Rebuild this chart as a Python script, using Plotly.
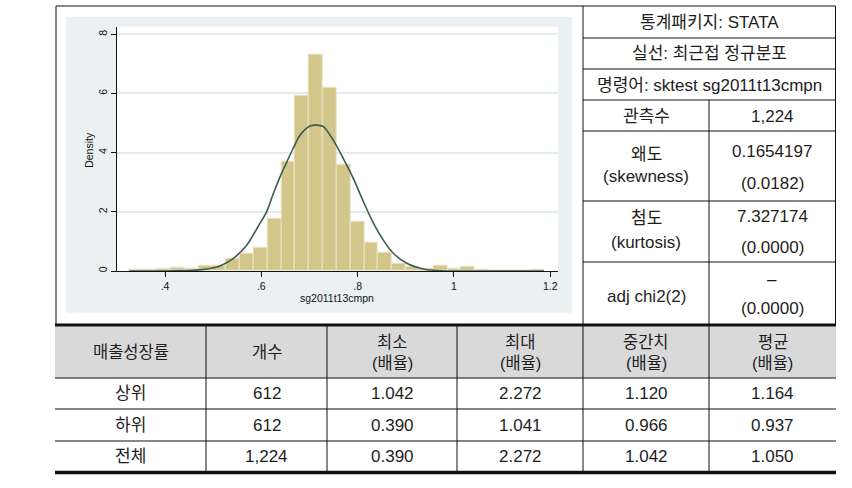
import plotly.graph_objects as go

W, H = 852, 488

# ---------------- histogram data ----------------
bin_start = 0.3255
bin_width = 0.02872
bin_density = [0.03, 0.03, 0.09, 0.12, 0.08, 0.19, 0.17, 0.43, 0.60, 0.78,
               1.76, 3.68, 5.92, 7.32, 6.18, 3.58, 1.65, 0.94, 0.63, 0.24,
               0.16, 0.09, 0.17, 0.07, 0.14, 0.06, 0.0, 0.0, 0.0, 0.05]

# normal overlay, points
curve_x = [0.326, 0.38, 0.42, 0.46, 0.487, 0.514, 0.542, 0.570, 0.597, 0.611,
           0.625, 0.639, 0.653, 0.666, 0.680, 0.701, 0.715, 0.729, 0.749, 0.770,
           0.791, 0.812, 0.833, 0.853, 0.874, 0.902, 0.936, 0.971, 1.02, 1.10, 1.187]
curve_y = [0.0, 0.0, 0.003, 0.02, 0.07, 0.17, 0.43, 0.88, 1.61, 2.0,
           2.62, 3.19, 3.69, 4.14, 4.58, 4.9, 4.93, 4.88, 4.43, 3.81,
           3.13, 2.34, 1.61, 1.05, 0.60, 0.26, 0.07, 0.01, 0.0, 0.0, 0.0]

x_tickvals = [0.4, 0.6, 0.8, 1.0, 1.2]
x_ticktext = [".4", ".6", ".8", "1", "1.2"]
y_tickvals = [0, 2, 4, 6, 8]
y_ticktext = ["0", "2", "4", "6", "8"]
x_title = "sg2011t13cmpn"
y_title = "Density"

# ---------------- right-hand table ----------------
info_rows = ["통계패키지: STATA", "실선: 최근접 정규분포", "명령어: sktest sg2011t13cmpn"]
stat_names = ["관측수", "왜도", "첨도", "adj chi2(2)"]
stat_names_en = ["", "(skewness)", "(kurtosis)", ""]
stat_values = ["1,224", "0.1654197", "7.327174", "–"]
stat_pvalues = ["", "(0.0182)", "(0.0000)", "(0.0000)"]

# ---------------- bottom table ----------------
bt_head1 = ["매출성장률", "개수", "최소", "최대", "중간치", "평균"]
bt_head2 = ["", "", "(배율)", "(배율)", "(배율)", "(배율)"]
groups = ["상위", "하위", "전체"]
counts = ["612", "612", "1,224"]
mins = ["1.042", "0.390", "0.390"]
maxs = ["2.272", "1.041", "2.272"]
medians = ["1.120", "0.966", "1.042"]
means = ["1.164", "0.937", "1.050"]


def X(px):
    return px / W


def Y(py):
    return 1 - py / H


CHART_FONT = "Liberation Sans, Arial, sans-serif"
TABLE_FONT = "Liberation Sans, Arial, Noto Sans CJK KR, sans-serif"
NARROW_FONT = "Liberation Sans Narrow, Arial Narrow, Liberation Sans, Noto Sans CJK KR, sans-serif"
INK = "#1e1e1e"

fig = go.Figure()

centers = [bin_start + (i + 0.5) * bin_width for i in range(len(bin_density))]
fig.add_trace(go.Bar(
    x=centers, y=bin_density, width=bin_width,
    marker=dict(color="#d2c68a", line=dict(color="#ebe5c4", width=1)),
    showlegend=False, hoverinfo="skip"))
fig.add_trace(go.Scatter(
    x=curve_x, y=curve_y, mode="lines",
    line=dict(color="#3a5c52", width=1.6, shape="spline", smoothing=0.8),
    showlegend=False, hoverinfo="skip"))

# plot geometry (pixels)
PL, PR, PT, PB = 116.7, 558.0, 26.7, 271.0

fig.update_layout(
    width=W, height=H, margin=dict(l=0, r=0, t=0, b=0),
    paper_bgcolor="white", plot_bgcolor="white",
    bargap=0, showlegend=False,
    font=dict(family=CHART_FONT, size=10, color="#111"),
    xaxis=dict(domain=[X(PL), X(PR)], range=[0.2997, 1.216],
               tickvals=x_tickvals, ticktext=x_ticktext,
               showline=True, linecolor="#111", linewidth=1,
               ticks="outside", ticklen=5, tickwidth=1, tickcolor="#111",
               showgrid=False, zeroline=False, automargin=False,
               tickfont=dict(size=10.5, family=CHART_FONT, color="#111")),
    yaxis=dict(domain=[Y(PB), Y(PT)], range=[0, 8.256],
               tickvals=y_tickvals, ticktext=y_ticktext, tickangle=-90,
               showline=True, linecolor="#111", linewidth=1,
               ticks="outside", ticklen=5, tickwidth=1, tickcolor="#111",
               showgrid=True, gridcolor="#e4ebee", gridwidth=1.5,
               zeroline=False, automargin=False,
               tickfont=dict(size=10.5, family=CHART_FONT, color="#111")),
)

shapes = []
# graph region panel and white plot region
shapes.append(dict(type="rect", xref="paper", yref="paper", layer="below",
                   x0=X(66), x1=X(572), y0=Y(312.7), y1=Y(17),
                   fillcolor="#eaf1f3", line=dict(width=0)))
shapes.append(dict(type="rect", xref="paper", yref="paper", layer="below",
                   x0=X(PL), x1=X(PR), y0=Y(PB), y1=Y(PT),
                   fillcolor="white", line=dict(width=0)))

# bottom header fill
shapes.append(dict(type="rect", xref="paper", yref="paper", layer="below",
                   x0=X(55), x1=X(836), y0=Y(378), y1=Y(326.5),
                   fillcolor="#d9d9d9", line=dict(width=0)))


def hline(py, x0, x1, w=1.0):
    shapes.append(dict(type="line", xref="paper", yref="paper",
                       x0=X(x0), x1=X(x1), y0=Y(py), y1=Y(py),
                       line=dict(color="#111", width=w)))


def vline(px, y0, y1, w=1.0):
    shapes.append(dict(type="line", xref="paper", yref="paper",
                       x0=X(px), x1=X(px), y0=Y(y0), y1=Y(y1),
                       line=dict(color="#111", width=w)))


# outer box of upper area
hline(6, 56, 835.5)
vline(56, 6, 325)
vline(835.5, 6, 325)
# right table
vline(583, 6, 472.5)
vline(709, 100, 472.5)
for py in [38, 69, 100, 131, 201, 262]:
    hline(py, 583, 835.5)
# bottom table
hline(325, 55, 836, 3)
for py in [378, 409, 441]:
    hline(py, 55, 836)
for px in [206, 327, 457]:
    vline(px, 326, 472.5)
hline(472.5, 55, 836, 3.5)

fig.update_layout(shapes=shapes)

ann = []


def text(s, px, py, size=17, family=TABLE_FONT, color=INK, angle=0):
    if not s:
        return
    ann.append(dict(text=s, x=X(px), y=Y(py), xref="paper", yref="paper",
                    xanchor="center", yanchor="middle", showarrow=False,
                    textangle=angle,
                    font=dict(size=size, family=family, color=color)))


# axis titles
text(x_title, (PL + PR) / 2, 297.5, size=10.5, family=CHART_FONT, color="#111")
text(y_title, 89, (PT + PB) / 2 + 1, size=10.5, family=CHART_FONT, color="#111", angle=-90)

# right table text
for s, py in zip(info_rows, [22.5, 53.5, 85]):
    text(s, 709.25, py)
name_y = [(116.5, None), (154, 177), (218, 242.5), (296, None)]
val_y = [(116.5, None), (151.5, 183.5), (216, 247), (279, 308.5)]
for i in range(len(stat_names)):
    y1, y2 = name_y[i]
    text(stat_names[i], 646, y1)
    if y2:
        text(stat_names_en[i], 646, y2)
    v1, v2 = val_y[i]
    text(stat_values[i], 772, v1)
    if v2:
        text(stat_pvalues[i], 772, v2)

# bottom table text
col_c = [130.5, 266.5, 392, 520, 646, 772.5]
for j in range(6):
    if bt_head2[j]:
        text(bt_head1[j], col_c[j], 342, size=16.5, family=NARROW_FONT)
        text(bt_head2[j], col_c[j], 362.5, size=16.5, family=NARROW_FONT)
    else:
        text(bt_head1[j], col_c[j], 352, size=16.5, family=NARROW_FONT)
row_c = [393.5, 425, 456.5]
cols = [groups, counts, mins, maxs, medians, means]
for r in range(3):
    for j in range(6):
        text(cols[j][r], col_c[j], row_c[r], size=17, family=NARROW_FONT)

fig.update_layout(annotations=ann)
fig.write_html("out.html")
